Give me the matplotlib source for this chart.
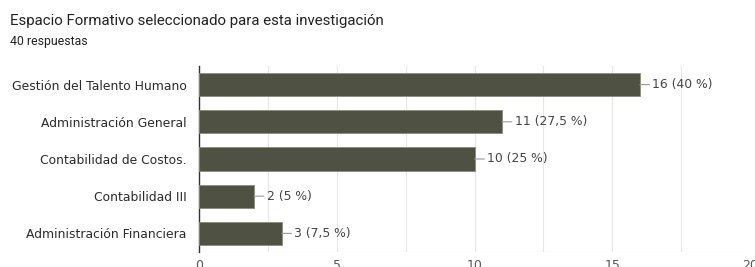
import matplotlib
matplotlib.use('Agg')
import matplotlib.pyplot as plt

categorias = ['Gestión del Talento Humano', 'Administración General',
              'Contabilidad de Costos.', 'Contabilidad III',
              'Administración Financiera']
valores = [16, 11, 10, 2, 3]
etiquetas = ['16 (40 %)', '11 (27,5 %)', '10 (25 %)', '2 (5 %)', '3 (7,5 %)']
xticks = [0, 5, 10, 15, 20]

plt.rcParams['font.family'] = ['DejaVu Sans']

fig = plt.figure(figsize=(7.55, 2.67), dpi=100)
ax = fig.add_axes([0.2636, 0.0562, 0.7298, 0.6966])

ypos = list(range(len(categorias)))
ax.barh(ypos, valores, height=0.62, color='#4f5142', edgecolor='#8a8c80',
        linewidth=0.6, zorder=3)

for y, v, t in zip(ypos, valores, etiquetas):
    ax.annotate(t, xy=(v, y), xytext=(9, 0), textcoords='offset points',
                ha='left', va='center', fontsize=8.9, color='#444444',
                arrowprops=dict(arrowstyle='-', color='#999999', lw=0.8,
                                shrinkA=0, shrinkB=0))

ax.set_ylim(4.5, -0.5)
ax.set_xlim(0, 20)
ax.set_yticks(ypos)
ax.set_yticklabels(categorias, fontsize=8.9, color='#2a2a2a')
ax.set_xticks(xticks)
ax.set_xticklabels([str(x) for x in xticks], fontsize=9, color='#555555')
ax.set_xticks([2.5, 7.5, 12.5, 17.5], minor=True)
ax.grid(True, axis='x', which='both', color='#e6e6e6', lw=0.8, zorder=0)
ax.tick_params(axis='y', length=0, pad=9)
ax.tick_params(axis='x', length=0, pad=5)
ax.tick_params(axis='x', which='minor', length=0)
for s in ['top', 'right', 'bottom']:
    ax.spines[s].set_visible(False)
ax.spines['left'].set_color('#333333')
ax.spines['left'].set_linewidth(1.0)
ax.axhline(4.5, color='#cccccc', lw=0.8, zorder=1)

fig.text(0.0132, 0.905, 'Espacio Formativo seleccionado para esta investigación',
         fontsize=10.8, color='#222222', family=['Roboto', 'DejaVu Sans'])
fig.text(0.0132, 0.832, '40 respuestas', fontsize=8.8, color='#222222',
         family=['Roboto', 'DejaVu Sans'])

fig.savefig('out.png', dpi=100)
